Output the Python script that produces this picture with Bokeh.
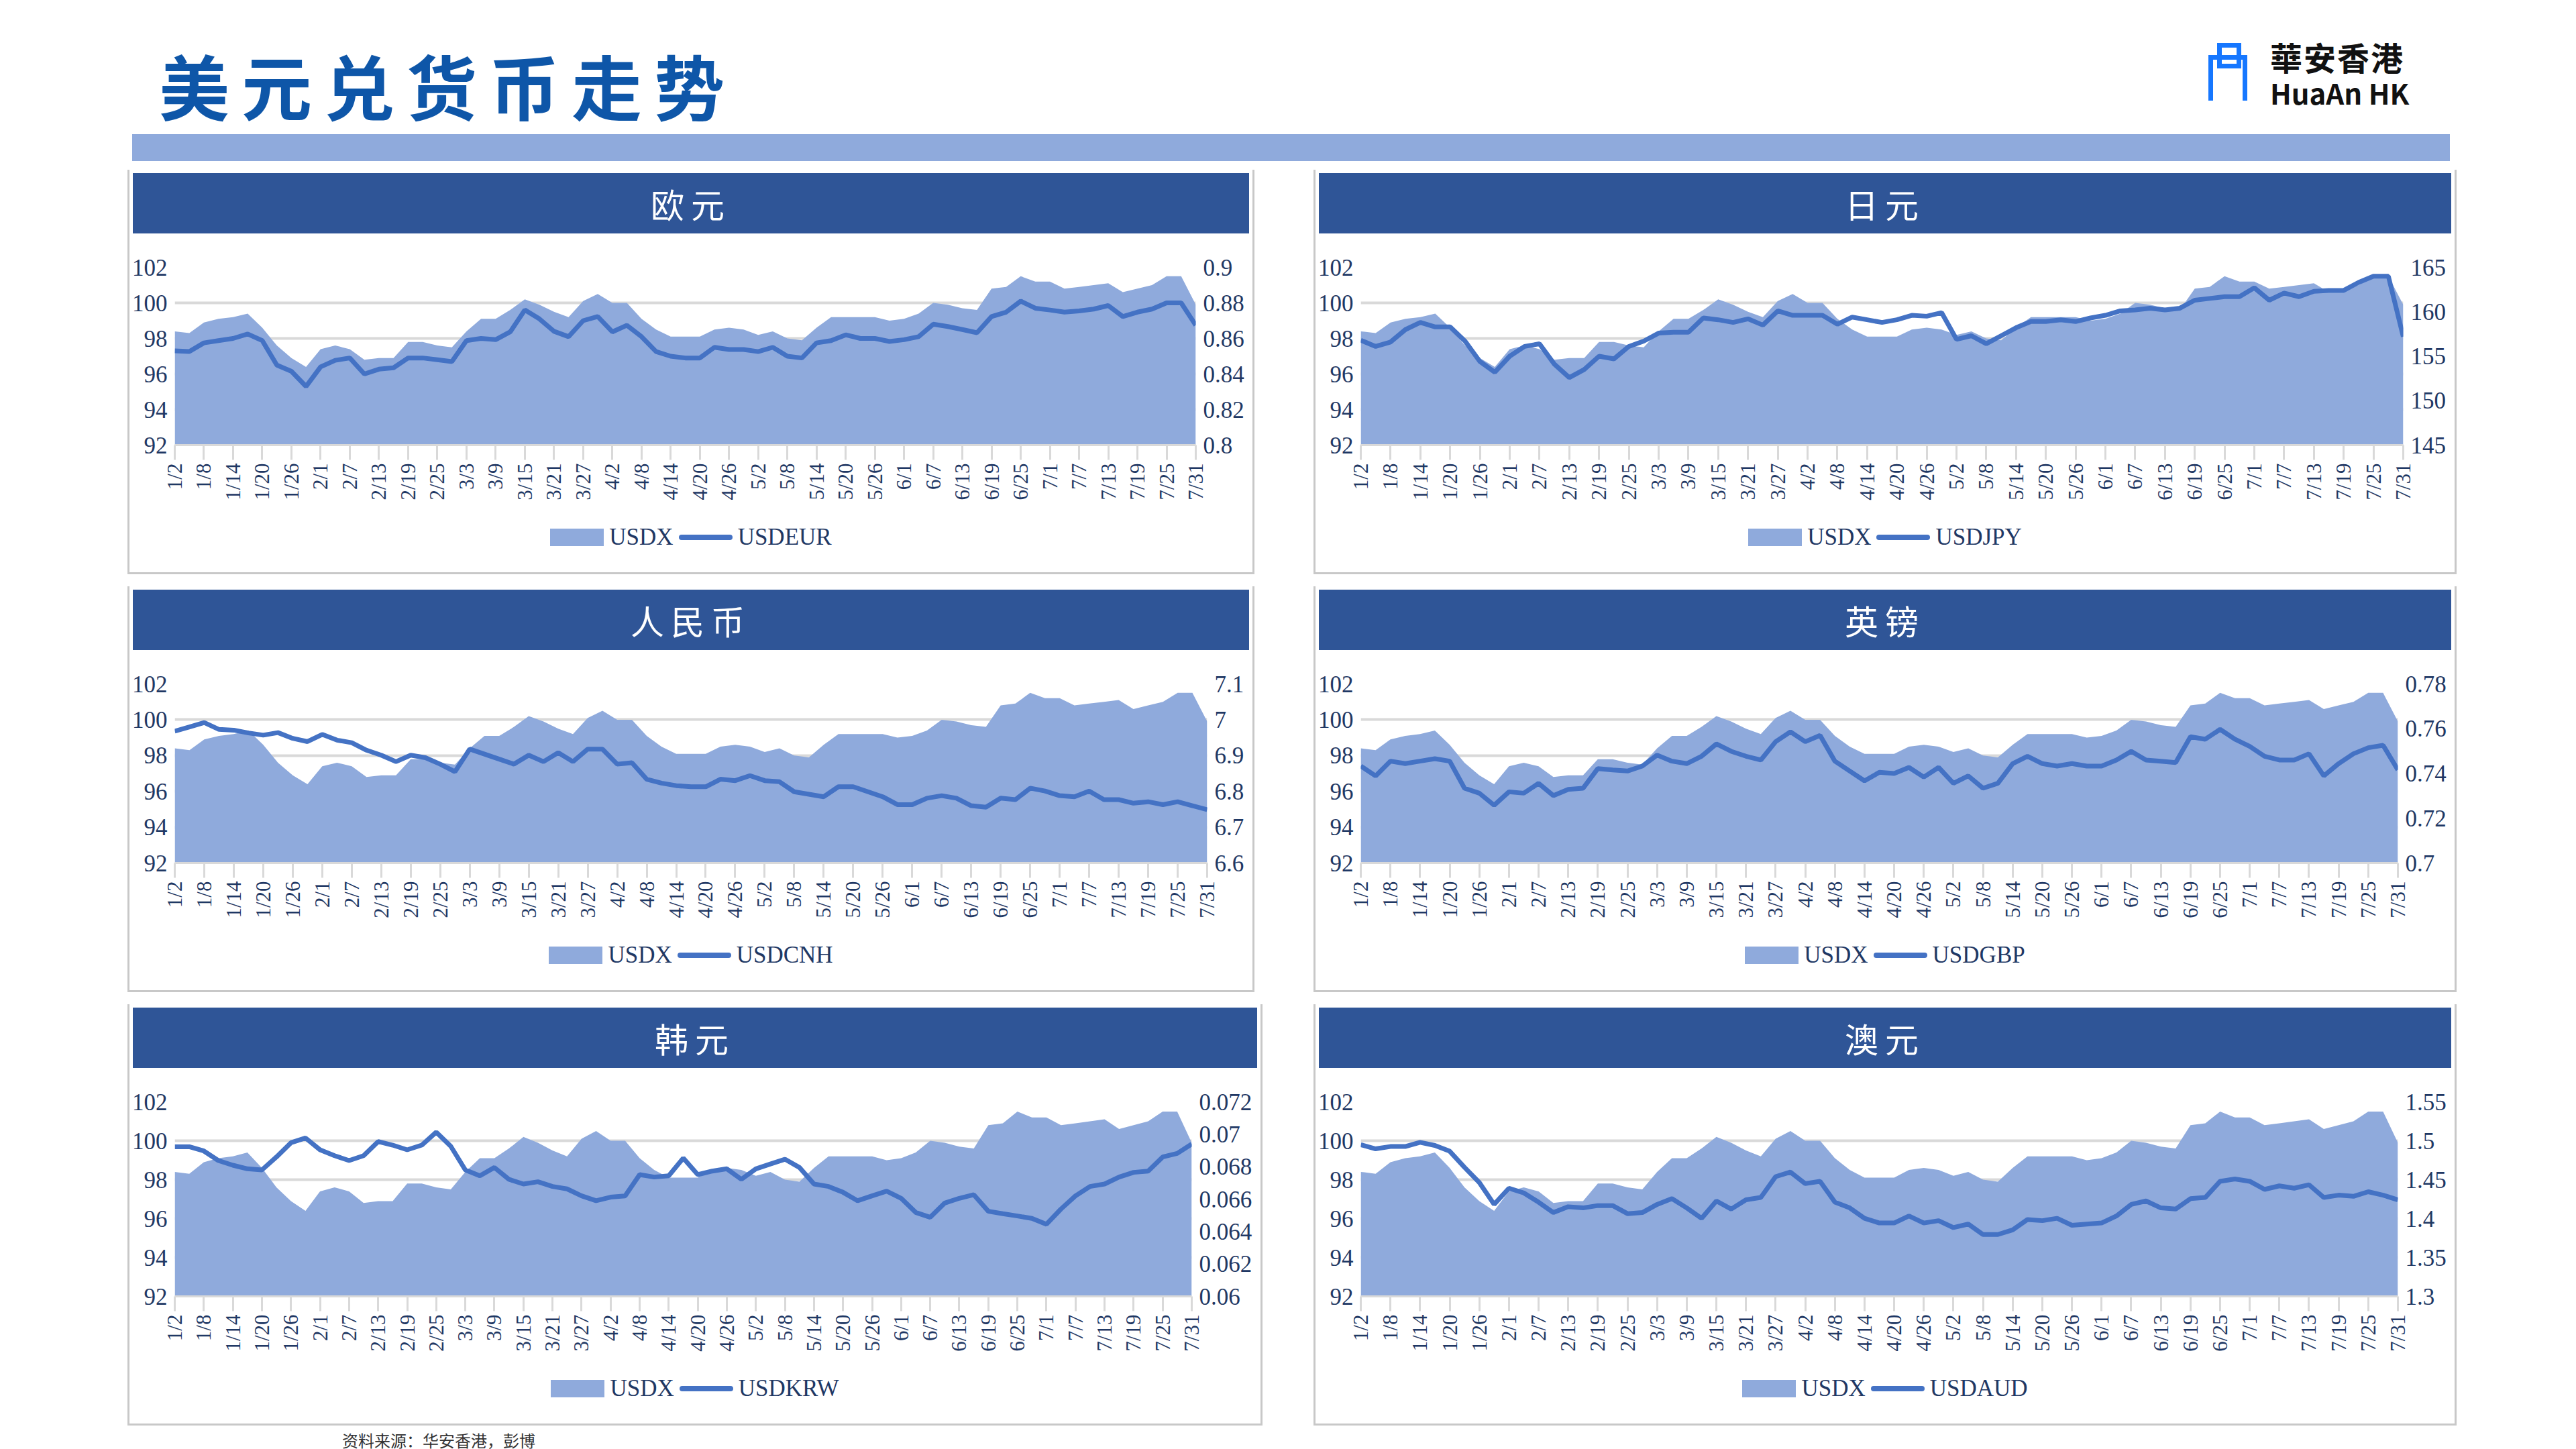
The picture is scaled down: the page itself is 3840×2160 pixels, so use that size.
from bokeh.embed import file_html
from bokeh.resources import INLINE
from bokeh.plotting import figure
from bokeh.layouts import column, row
from bokeh.models import (ColumnDataSource, Range1d, LinearAxis, FixedTicker,
                          CustomJSTickFormatter, Div, Spacer)
import math

# ---- data (sampled every 3 days from 1/2 to 7/31) ----
usdx = [98.4, 98.3, 98.9, 99.1, 99.2, 99.4, 98.6, 97.6, 96.9, 96.4,
        97.4, 97.6, 97.4, 96.8, 96.9, 96.9, 97.8, 97.8, 97.6, 97.5,
        98.4, 99.1, 99.1, 99.6, 100.2, 99.9, 99.5, 99.2, 100.1, 100.5,
        100.0, 100.0, 99.1, 98.5, 98.1, 98.1, 98.1, 98.5, 98.6, 98.5,
        98.2, 98.4, 98.0, 97.9, 98.6, 99.2, 99.2, 99.2, 99.2, 99.0,
        99.1, 99.4, 100.0, 99.9, 99.7, 99.6, 100.8, 100.9, 101.5, 101.2,
        101.2, 100.8, 100.9, 101.0, 101.1, 100.6, 100.8, 101.0, 101.5, 101.5,
        99.9]
usdeur = [0.853, 0.8526, 0.8575, 0.8588, 0.860, 0.8625, 0.8588, 0.845, 0.8415, 0.833,
          0.844, 0.8477, 0.849, 0.840, 0.8427, 0.8435, 0.849, 0.849, 0.848, 0.847,
          0.8588, 0.860, 0.8593, 0.8637, 0.876, 0.871, 0.864, 0.861, 0.870, 0.8723,
          0.8637, 0.8674, 0.861, 0.8526, 0.850, 0.849, 0.849, 0.855, 0.8538, 0.8538,
          0.8526, 0.855, 0.850, 0.849, 0.8575, 0.8588, 0.862, 0.860, 0.860, 0.8583,
          0.8593, 0.861, 0.868, 0.8667, 0.865, 0.8632, 0.8723, 0.8748, 0.881, 0.877,
          0.876, 0.8748, 0.8755, 0.8765, 0.8785, 0.8723, 0.8748, 0.8765, 0.880, 0.880,
          0.8674]
usdjpy = [156.8, 156.1, 156.6, 158.0, 158.8, 158.3, 158.3, 156.7, 154.4, 153.2,
          155.0, 156.1, 156.4, 154.1, 152.6, 153.5, 155.0, 154.7, 156.1, 156.7,
          157.6, 157.7, 157.7, 159.3, 159.1, 158.8, 159.2, 158.5, 160.1, 159.6,
          159.6, 159.6, 158.6, 159.4, 159.1, 158.8, 159.1, 159.6, 159.5, 159.9,
          156.9, 157.3, 156.4, 157.3, 158.2, 158.9, 158.9, 159.1, 158.9, 159.3,
          159.6, 160.1, 160.2, 160.4, 160.2, 160.4, 161.3, 161.5, 161.7, 161.7,
          162.7, 161.3, 162.1, 161.7, 162.3, 162.4, 162.4, 163.3, 164.0, 164.0,
          157.2]
usdcnh = [6.968, 6.980, 6.992, 6.973, 6.971, 6.963, 6.957, 6.964, 6.948, 6.939,
          6.959, 6.943, 6.936, 6.915, 6.901, 6.883, 6.901, 6.894, 6.876, 6.855,
          6.918, 6.904, 6.890, 6.876, 6.901, 6.883, 6.908, 6.883, 6.918, 6.918,
          6.876, 6.880, 6.834, 6.823, 6.816, 6.813, 6.813, 6.834, 6.830, 6.844,
          6.830, 6.827, 6.799, 6.792, 6.785, 6.813, 6.813, 6.799, 6.785, 6.763,
          6.763, 6.781, 6.788, 6.781, 6.760, 6.756, 6.781, 6.777, 6.809, 6.801,
          6.788, 6.785, 6.801, 6.777, 6.777, 6.767, 6.771, 6.763, 6.771, 6.760,
          6.749]
usdgbp = [0.7433, 0.7389, 0.7455, 0.7444, 0.7455, 0.7466, 0.7455, 0.7334, 0.7312, 0.7258,
          0.7318, 0.7312, 0.7356, 0.7301, 0.7329, 0.7334, 0.7422, 0.7416, 0.7411, 0.7433,
          0.7482, 0.7455, 0.7444, 0.7477, 0.7532, 0.7499, 0.7477, 0.7460, 0.7542, 0.7586,
          0.7542, 0.7570, 0.7455, 0.7411, 0.7367, 0.7405, 0.7400, 0.7427, 0.7384, 0.7427,
          0.7356, 0.7389, 0.7334, 0.7356, 0.7444, 0.7477, 0.7444, 0.7433, 0.7444, 0.7433,
          0.7433, 0.7460, 0.7499, 0.7460, 0.7455, 0.7449, 0.7564, 0.7553, 0.7597, 0.7553,
          0.7521, 0.7477, 0.7460, 0.7460, 0.7488, 0.7389, 0.7444, 0.7488, 0.7515, 0.7526,
          0.7416]
usdkrw = [0.06923, 0.06923, 0.06897, 0.06838, 0.06809, 0.06787, 0.06780, 0.06860, 0.06948, 0.06977,
          0.06904, 0.06868, 0.06838, 0.06868, 0.06955, 0.06933, 0.06904, 0.06933, 0.07013, 0.06926,
          0.06780, 0.06744, 0.06795, 0.06722, 0.06693, 0.06707, 0.06678, 0.06663, 0.06620, 0.06590,
          0.06612, 0.06620, 0.06751, 0.06736, 0.06744, 0.06853, 0.06751, 0.06773, 0.06787, 0.06722,
          0.06787, 0.06817, 0.06846, 0.06795, 0.06693, 0.06678, 0.06642, 0.06590, 0.06620, 0.06649,
          0.06605, 0.06518, 0.06488, 0.06576, 0.06605, 0.06627, 0.06525, 0.06510, 0.06496, 0.06481,
          0.06445, 0.06539, 0.06620, 0.06678, 0.06693, 0.06736, 0.06765, 0.06773, 0.06860, 0.06882,
          0.06940]
usdaud = [1.4949, 1.4896, 1.4926, 1.4926, 1.4979, 1.4940, 1.4866, 1.4658, 1.4464, 1.4182,
          1.4390, 1.4330, 1.4211, 1.4077, 1.4152, 1.4137, 1.4167, 1.4167, 1.4063, 1.4077,
          1.4182, 1.4256, 1.4137, 1.4003, 1.4226, 1.4122, 1.4241, 1.4271, 1.4539, 1.4598,
          1.4449, 1.4479, 1.4211, 1.4137, 1.4003, 1.3943, 1.3943, 1.4033, 1.3943, 1.3973,
          1.3884, 1.3929, 1.3795, 1.3795, 1.3854, 1.3988, 1.3973, 1.4003, 1.3914, 1.3929,
          1.3943, 1.4033, 1.4182, 1.4226, 1.4137, 1.4122, 1.4256, 1.4271, 1.4479, 1.4509,
          1.4479, 1.4375, 1.4420, 1.4390, 1.4435, 1.4271, 1.4301, 1.4286, 1.4345, 1.4301,
          1.4241]
tick_labels = ["1/2", "1/8", "1/14", "1/20", "1/26", "2/1", "2/7", "2/13", "2/19", "2/25",
               "3/3", "3/9", "3/15", "3/21", "3/27", "4/2", "4/8", "4/14", "4/20", "4/26",
               "5/2", "5/8", "5/14", "5/20", "5/26", "6/1", "6/7", "6/13", "6/19", "6/25",
               "7/1", "7/7", "7/13", "7/19", "7/25", "7/31"]

day_index = [3 * i for i in range(len(usdx))]
tick_days = [6 * i for i in range(len(tick_labels))]

AREA = "#8FAADC"
LINE = "#4472C4"
HEAD = "#2F5597"
TXT = "#1F3864"
SERIF = "Liberation Serif"
CJK = "Noto Sans CJK SC"


def panel(title, name, vals, rticks, w, h):
    src = ColumnDataSource(data=dict(x=day_index, usdx=usdx, fx=vals))
    p = figure(width=w, height=h - 95, output_backend="svg", toolbar_location=None,
               x_range=Range1d(0, 210), y_range=Range1d(92, 102),
               min_border_left=40, min_border_right=40, min_border_top=45,
               min_border_bottom=10)
    p.outline_line_color = None
    p.extra_y_ranges = {"r": Range1d(rticks[0], rticks[-1])}
    p.varea(x="x", y1=92, y2="usdx", source=src, fill_color=AREA)
    p.line(x="x", y="fx", source=src, y_range_name="r", line_color=LINE, line_width=7)

    p.xaxis.ticker = FixedTicker(ticks=tick_days)
    p.xaxis.major_label_overrides = {d: s for d, s in zip(tick_days, tick_labels)}
    p.xaxis.major_label_orientation = math.pi / 2
    p.yaxis.ticker = FixedTicker(ticks=[92, 94, 96, 98, 100, 102])
    ra = LinearAxis(y_range_name="r", ticker=FixedTicker(ticks=rticks),
                    formatter=CustomJSTickFormatter(code="return String(Number(tick.toFixed(4)))"))
    p.add_layout(ra, "right")
    for ax in p.axis:
        ax.axis_line_color = None
        ax.major_tick_line_color = None
        ax.minor_tick_line_color = None
        ax.major_label_text_font = SERIF
        ax.major_label_text_font_size = "35px"
        ax.major_label_text_color = TXT
    p.xaxis.axis_line_color = "#D9D9D9"
    p.xaxis.axis_line_width = 3
    p.xaxis.major_tick_line_color = "#D9D9D9"
    p.xaxis.major_tick_line_width = 3
    p.xaxis.major_tick_in = 0
    p.xaxis.major_tick_out = 22
    p.xaxis.major_label_text_font_size = "31px"
    p.xgrid.grid_line_color = None
    p.ygrid.grid_line_color = "#D9D9D9"
    p.ygrid.grid_line_width = 4

    # legend drawn as html below the plot
    leg = Div(text=(
        f'<div style="width:{w}px;text-align:center;font-family:{SERIF};font-size:35px;color:{TXT};">'
        f'<span style="display:inline-block;width:80px;height:26px;background:{AREA};margin-right:8px;vertical-align:middle;"></span>'
        '<span style="vertical-align:middle;">USDX</span>'
        f'<span style="display:inline-block;width:80px;height:8px;border-radius:4px;background:{LINE};margin:0 8px;vertical-align:middle;"></span>'
        f'<span style="vertical-align:middle;">{name}</span>'
        '</div>'), width=w, height=95, styles={"width": f"{w}px", "padding-top": "20px"})

    head = Div(text=title, width=w, height=90,
               styles={"background-color": HEAD, "color": "white", "font-family": CJK,
                       "font-size": "50px", "text-align": "center", "line-height": "90px",
                       "width": f"{w}px", "letter-spacing": "10px"})
    return column(head, p, leg, spacing=0,
                  styles={"border": "3px solid #C8C8C8", "border-top": "none"})


title = Div(text="美元兑货币走势", width=1500, height=185,
            styles={"font-family": CJK, "font-size": "105px", "color": "#0E56A8",
                    "font-weight": "bold", "letter-spacing": "18px", "padding-top": "45px"})
logo = Div(text=(
    '<div style="display:flex;align-items:center;">'
    '<div style="width:70px;height:90px;position:relative;margin-right:22px;">'
    '<div style="position:absolute;left:13px;top:0;width:36px;height:38px;border:7px solid #1677FF;"></div>'
    '<div style="position:absolute;left:0;top:18px;width:58px;height:68px;border:7px solid #1677FF;border-bottom:none;"></div>'
    '</div>'
    '<div style="font-family:Noto Sans CJK TC;color:#111;">'
    '<div style="font-size:48px;font-weight:bold;letter-spacing:2px;line-height:58px;">華安香港</div>'
    '<div style="font-size:42px;font-weight:bold;line-height:50px;">HuaAn HK</div></div></div>'),
    width=400, height=185, styles={"padding-top": "50px"})
header = row(Spacer(width=232), title, Spacer(width=1545), logo)

bar = row(Spacer(width=192), Div(text="", width=3455, height=40,
                                  styles={"background-color": AREA, "width": "3455px"}))

r1 = row(Spacer(width=190), panel("欧元", "USDEUR", usdeur, [0.8, 0.82, 0.84, 0.86, 0.88, 0.9], 1664, 490),
         Spacer(width=88), panel("日元", "USDJPY", usdjpy, [145, 150, 155, 160, 165], 1688, 490))
r2 = row(Spacer(width=190), panel("人民币", "USDCNH", usdcnh, [6.6, 6.7, 6.8, 6.9, 7.0, 7.1], 1664, 492),
         Spacer(width=88), panel("英镑", "USDGBP", usdgbp, [0.70, 0.72, 0.74, 0.76, 0.78], 1688, 492))
r3 = row(Spacer(width=190), panel("韩元", "USDKRW", usdkrw,
                                  [0.060, 0.062, 0.064, 0.066, 0.068, 0.070, 0.072], 1676, 515),
         Spacer(width=76), panel("澳元", "USDAUD", usdaud, [1.30, 1.35, 1.40, 1.45, 1.50, 1.55], 1688, 515))
src_note = row(Spacer(width=505), Div(text="资料来源：华安香港，彭博", width=800, height=30,
                                      styles={"font-family": CJK, "font-size": "24px", "color": "#333"}))

page = column(header, bar, Spacer(height=8), r1, Spacer(height=18), r2, Spacer(height=18), r3, src_note)
open("out.html", "w").write(file_html(page, INLINE))
